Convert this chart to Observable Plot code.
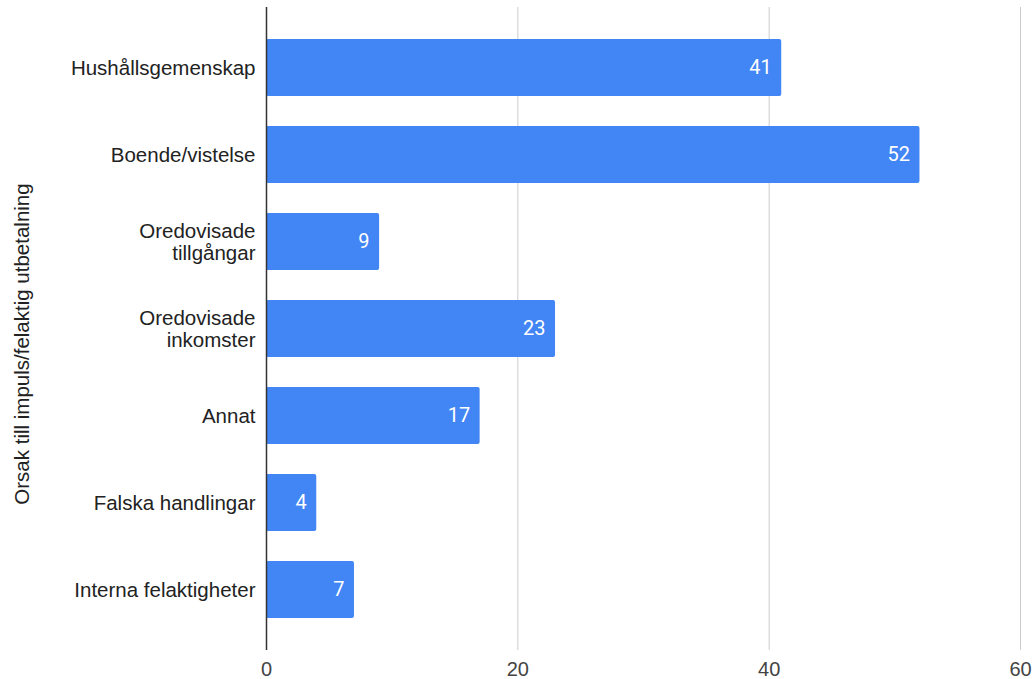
<!DOCTYPE html>
<html>
<head>
<meta charset="utf-8">
<script src="https://cdn.jsdelivr.net/npm/d3@7"></script>
<script src="https://cdn.jsdelivr.net/npm/@observablehq/plot@0.6"></script>
<style>
  html, body { margin: 0; padding: 0; background: #fff; }
  #chart svg { display: block; }
</style>
</head>
<body>
<div id="chart"></div>
<script>
const categories = [
  "Hushållsgemenskap",
  "Boende/vistelse",
  "Oredovisade\ntillgångar",
  "Oredovisade\ninkomster",
  "Annat",
  "Falska handlingar",
  "Interna felaktigheter"
];
const values = [41, 52, 9, 23, 17, 4, 7];
const xTicks = [0, 20, 40, 60];
const gridTicks = [20, 40, 60];
const axisTitle = "Orsak till impuls/felaktig utbetalning";

const data = categories.map((c, i) => ({category: c, value: values[i]}));

const chart = Plot.plot({
  width: 1032,
  height: 679,
  marginLeft: 266,
  marginRight: 12,
  marginTop: 7,
  marginBottom: 29,
  style: {fontFamily: "'Liberation Sans', Arial, sans-serif", fontSize: "20px", color: "#222", background: "#fff"},
  x: {domain: [0, 60], ticks: xTicks, label: null},
  y: {domain: categories, paddingInner: 0.345, paddingOuter: 0.36, label: null},
  marks: [
    Plot.gridX(gridTicks, {stroke: "#ccc", strokeOpacity: 1, strokeWidth: 1}),
    Plot.barX(data, {x: "value", y: "category", fill: "#4285F4", rx: 2}),
    Plot.ruleX([0], {stroke: "#333", strokeWidth: 1.5}),
    Plot.text(data, {
      x: "value", y: "category", text: d => String(d.value),
      textAnchor: "end", dx: -10, fill: "#fff",
      fontFamily: "Roboto, sans-serif", fontSize: 20
    }),
    Plot.axisX(xTicks, {tickSize: 0, tickPadding: 11, fill: "#444", fontSize: 20, label: null}),
    Plot.axisY({tickSize: 0, tickPadding: 11, fill: "#222", fontSize: 20.5, lineHeight: 1.08, label: null}),
    Plot.text([axisTitle], {
      frameAnchor: "left", rotate: -90, dx: -244, dy: 15,
      fill: "#222", fontSize: 20.5, textAnchor: "middle"
    })
  ]
});
document.getElementById("chart").appendChild(chart);
</script>
</body>
</html>
